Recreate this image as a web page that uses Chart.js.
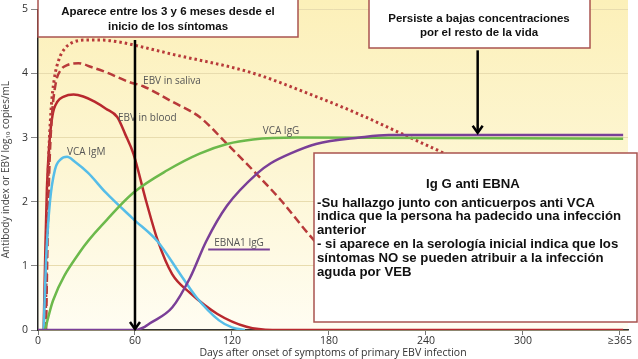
<!DOCTYPE html>
<html>
<head>
<meta charset="utf-8">
<script src="https://cdn.jsdelivr.net/npm/chart.js@4/dist/chart.umd.min.js"></script>
<style>
  html, body { margin: 0; padding: 0; background: #fff; }
  #wrap { width: 638px; height: 359px; position: relative; }
</style>
</head>
<body>
<div id="wrap"><canvas id="ebv-chart" width="638" height="359"></canvas></div>
<script>
// days after onset, value (antibody index or log10 copies/mL)
const salivaDottedDays = [4.5, 5.5, 6.5, 8, 10, 13, 17, 22, 30, 40, 50, 58, 83, 131, 172, 199, 225, 256, 290];
const salivaDottedVals = [0, 1.5, 2.6, 3.4, 3.9, 4.22, 4.4, 4.49, 4.52, 4.52, 4.49, 4.45, 4.3, 4.02, 3.64, 3.36, 3.06, 2.7, 2.3];

const salivaDashedDays = [5, 6, 7, 8.5, 11, 14, 18, 25, 33, 42, 56, 65, 83, 100, 117, 133, 150, 170, 190, 210];
const salivaDashedVals = [0, 1.5, 2.5, 3.3, 3.85, 4.05, 4.13, 4.16, 4.1, 4.02, 3.87, 3.8, 3.56, 3.32, 2.9, 2.49, 2.03, 1.42, 0.9, 0.5];

const bloodDays = [3.5, 4.5, 5.5, 7, 9, 12, 16, 22, 28, 35, 42, 49, 54, 59, 67, 74, 83, 94, 111, 129, 145, 362];
const bloodVals = [0, 1.2, 2.2, 2.9, 3.35, 3.56, 3.64, 3.67, 3.64, 3.56, 3.45, 3.32, 3.05, 2.75, 2.0, 1.4, 0.87, 0.58, 0.25, 0.05, 0, 0];

const igmDays = [3.5, 5, 7.4, 10.5, 14, 18, 23, 31, 42, 59, 74, 88, 98, 112, 120, 128];
const igmVals = [0, 1.1, 2.0, 2.5, 2.66, 2.7, 2.62, 2.45, 2.14, 1.73, 1.38, 0.87, 0.51, 0.15, 0.04, 0];

const iggDays = [4.3, 9.3, 26, 43, 59, 80, 100, 117, 133, 160, 362];
const iggVals = [0, 0.46, 1.22, 1.73, 2.14, 2.49, 2.75, 2.9, 2.97, 3.0, 2.98];

const ebnaDays = [0, 60, 66, 69, 83, 94, 104, 117, 136, 144, 156, 172, 199, 217, 362];
const ebnaVals = [0, 0, 0.05, 0.1, 0.35, 0.81, 1.38, 1.94, 2.45, 2.6, 2.75, 2.9, 3.0, 3.04, 3.04];

const xTicks = [0, 60, 120, 180, 240, 300, 360];
const xTickLabels = ['0', '60', '120', '180', '240', '300', '\u2265365'];

// curve names written on the plot
const curveLabels = ['EBV in saliva', 'EBV in blood', 'VCA IgG', 'VCA IgM', 'EBNA1 IgG'];
const curveLabelDays = [65, 49.5, 139, 18, 109];
const curveLabelVals = [3.88, 3.3, 3.1, 2.78, 1.35];

// arrows: day, from value, to value
const arrowDays = [60, 272];
const arrowFrom = [4.52, 4.36];
const arrowTo = [0, 3.06];

function pts(days, vals) {
  return days.map(function (d, i) { return { x: d, y: vals[i] }; });
}

const boxColor = '#a9534f';
const notes = {
  id: 'notes',
  beforeDraw(chart) {
    var ctx = chart.ctx, a = chart.chartArea;
    var g = ctx.createLinearGradient(0, 0, 0, a.bottom);
    g.addColorStop(0, '#fcf0b9');
    g.addColorStop(0.5, '#fdf6d3');
    g.addColorStop(1, '#fffdf2');
    ctx.save();
    ctx.fillStyle = g;
    ctx.fillRect(a.left, 0, a.right - a.left, a.bottom);
    ctx.restore();
  },
  afterDatasetsDraw(chart) {
    var ctx = chart.ctx, xs = chart.scales.x, ys = chart.scales.y;
    ctx.save();

    // curve labels
    ctx.font = '10px "Open Sans"';
    ctx.fillStyle = '#555';
    ctx.textBaseline = 'middle';
    curveLabels.forEach(function (t, i) {
      var px = xs.getPixelForValue(curveLabelDays[i]);
      var py = ys.getPixelForValue(curveLabelVals[i]);
      ctx.fillText(t, px, py);
      if (t == 'EBNA1 IgG') {
        var w = ctx.measureText(t).width;
        ctx.strokeStyle = '#7a4396';
        ctx.lineWidth = 2;
        ctx.beginPath();
        ctx.moveTo(px - 6, py + 6);
        ctx.lineTo(px + w + 6, py + 6);
        ctx.stroke();
      }
    });

    // black arrows
    ctx.strokeStyle = '#000';
    ctx.lineWidth = 2.5;
    arrowDays.forEach(function (d, i) {
      var px = xs.getPixelForValue(d);
      var y1 = ys.getPixelForValue(arrowFrom[i]);
      var y2 = ys.getPixelForValue(arrowTo[i]);
      ctx.beginPath();
      ctx.moveTo(px, y1);
      ctx.lineTo(px, y2 - 1);
      ctx.stroke();
      ctx.beginPath();
      ctx.moveTo(px - 5, y2 - 8);
      ctx.lineTo(px, y2 - 1);
      ctx.lineTo(px + 5, y2 - 8);
      ctx.stroke();
    });

    // text boxes
    function box(x, y, w, h) {
      ctx.fillStyle = '#fff';
      ctx.fillRect(x, y, w, h);
      ctx.strokeStyle = boxColor;
      ctx.lineWidth = 1.5;
      ctx.strokeRect(x, y, w, h);
    }
    ctx.textBaseline = 'middle';
    ctx.textAlign = 'center';
    box(38, -2, 260, 39);
    ctx.fillStyle = '#111';
    ctx.font = 'bold 11.5px "Liberation Sans"';
    ctx.fillText('Aparece entre los 3 y 6 meses desde el', 168, 12);
    ctx.fillText('inicio de los s\u00edntomas', 168, 27);

    box(369, -2, 221, 50);
    ctx.fillStyle = '#111';
    ctx.fillText('Persiste a bajas concentraciones', 479, 19);
    ctx.fillText('por el resto de la vida', 479, 33);

    box(314, 153, 323, 169);
    ctx.fillStyle = '#111';
    ctx.font = 'bold 13.2px "Liberation Sans"';
    ctx.fillText('Ig G anti EBNA', 473, 184);
    ctx.textAlign = 'left';
    var lines = [
      '-Su hallazgo junto con anticuerpos anti VCA',
      'indica que la persona ha padecido una infecci\u00f3n',
      'anterior',
      '- si aparece en la serolog\u00eda inicial indica que los',
      's\u00edntomas NO se pueden atribuir a la infecci\u00f3n',
      'aguda por VEB'
    ];
    lines.forEach(function (l, i) {
      ctx.fillText(l, 317, 203 + i * 13.8);
    });
    ctx.restore();
  }
};

var ctx = document.getElementById('ebv-chart');
new Chart(ctx, {
  type: 'line',
  data: {
    datasets: [
      { data: pts(ebnaDays, ebnaVals), borderColor: '#7a3f97', borderWidth: 2.5 },
      { data: pts(iggDays, iggVals), borderColor: '#6cb94b', borderWidth: 2.5 },
      { data: pts(igmDays, igmVals), borderColor: '#56bde8', borderWidth: 2.5 },
      { data: pts(salivaDottedDays, salivaDottedVals), borderColor: '#b83a3a', borderWidth: 3, borderDash: [2.5, 3] },
      { data: pts(salivaDashedDays, salivaDashedVals), borderColor: '#b83a3a', borderWidth: 2.5, borderDash: [8, 4] },
      { data: pts(bloodDays, bloodVals), borderColor: '#b8282e', borderWidth: 2.5 }
    ]
  },
  options: {
    responsive: false,
    animation: false,
    events: [],
    layout: { padding: { top: 3, right: 10, left: 0, bottom: 0 } },
    elements: {
      point: { radius: 0 },
      line: { cubicInterpolationMode: 'monotone', fill: false }
    },
    plugins: { legend: { display: false }, tooltip: { enabled: false } },
    scales: {
      x: {
        type: 'linear',
        min: 0,
        max: 365,
        afterBuildTicks: function (s) { s.ticks = xTicks.map(function (v) { return { value: v }; }); },
        afterFit: function (s) { s.height = 29; },
        ticks: {
          autoSkip: false,
          maxRotation: 0,
          padding: 0,
          color: '#333',
          font: { family: 'Open Sans', size: 10.5 },
          callback: function (v) { return xTickLabels[xTicks.indexOf(v)]; }
        },
        grid: { drawOnChartArea: false, tickLength: 5, color: '#777' },
        border: { color: '#333', width: 1.5 },
        title: {
          display: true,
          text: 'Days after onset of symptoms of primary EBV infection',
          color: '#333',
          font: { family: 'Open Sans', size: 10.5 },
          padding: { top: 0, bottom: 0 }
        }
      },
      y: {
        min: 0,
        max: 5,
        afterFit: function (s) { s.width = 38; },
        ticks: {
          stepSize: 1,
          padding: 3,
          color: '#333',
          font: { family: 'Open Sans', size: 10.5 }
        },
        grid: { color: '#e8dcae', tickColor: '#888', tickLength: 7 },
        border: { color: '#222', width: 1.5 },
        title: {
          display: true,
          text: 'Antibody index or EBV log\u2081\u2080 copies/mL',
          color: '#444',
          font: { family: 'Open Sans', size: 10 },
          padding: { top: 0, bottom: 0 }
        }
      }
    }
  },
  plugins: [notes]
});
</script>
</body>
</html>
